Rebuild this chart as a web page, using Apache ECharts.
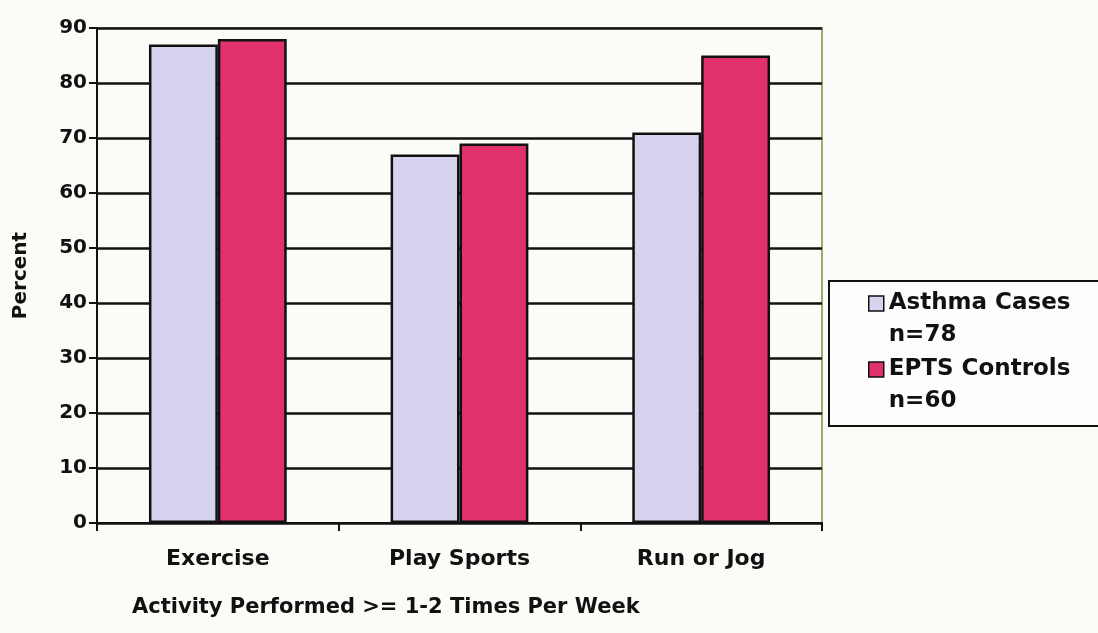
<!DOCTYPE html>
<html>
<head>
<meta charset="utf-8">
<script src="https://cdn.jsdelivr.net/npm/echarts@6/dist/echarts.min.js"></script>
<style>
  html, body { margin: 0; padding: 0; background: #fbfbf7; }
  #chart { width: 1098px; height: 633px; }
</style>
</head>
<body>
<div id="chart"></div>
<script>
const categories = ['Exercise', 'Play Sports', 'Run or Jog']
const asthmaCases = [87, 67, 71]
const eptsControls = [88, 69, 85]
const seriesNames = ['Asthma Cases\nn=78', 'EPTS Controls\nn=60']
const yTicks = [0, 10, 20, 30, 40, 50, 60, 70, 80, 90]

const chart = echarts.init(document.getElementById('chart'))
const font = 'DejaVu Sans, Verdana, sans-serif'

// first line sits level with the legend square, second line below it
const legendText = { fontFamily: font, fontSize: 23, fontWeight: 'bold', color: '#111' }

const option = {
  backgroundColor: '#fbfbf7',
  animation: false,
  title: {
    text: 'Activity Performed >= 1-2 Times Per Week',
    left: 132,
    top: 597,
    padding: 0,
    textStyle: { fontFamily: font, fontSize: 21, fontWeight: 'bold', color: '#111' }
  },
  // legend frame
  graphic: [{
    type: 'rect',
    right: -10,
    top: 280,
    z: 0,
    shape: { width: 278, height: 145 },
    style: { fill: '#fdfdfb', stroke: '#111', lineWidth: 2 }
  }],
  grid: {
    left: 97, right: 276, top: 28, bottom: 110,
    show: true,
    borderColor: '#8a8a40',
    borderWidth: 1.5,
    backgroundColor: 'transparent'
  },
  legend: {
    orient: 'vertical',
    left: 868,
    top: 292,
    padding: 0,
    itemWidth: 15,
    itemHeight: 15,
    itemGap: 11,
    icon: 'rect',
    data: seriesNames,
    formatter: name => {
      const [l1, l2] = name.split('\n')
      return '{a|' + l1 + '}\n{b|' + l2 + '}'
    },
    textStyle: {
      ...legendText,
      rich: {
        a: { ...legendText, lineHeight: 64, verticalAlign: 'bottom' },
        b: { ...legendText, lineHeight: 41, verticalAlign: 'middle' }
      }
    },
    itemStyle: { borderColor: '#111', borderWidth: 1.5 }
  },
  xAxis: {
    type: 'category',
    data: categories,
    axisLine: { lineStyle: { color: '#111', width: 2 } },
    axisTick: { show: true, length: 8, lineStyle: { color: '#111', width: 2 } },
    axisLabel: { fontFamily: font, fontSize: 22, fontWeight: 'bold', color: '#111', margin: 25 }
  },
  yAxis: {
    type: 'value',
    min: 0,
    max: yTicks[yTicks.length - 1],
    interval: 10,
    name: 'Percent',
    nameLocation: 'middle',
    nameGap: 66,
    nameRotate: 90,
    nameTextStyle: { fontFamily: font, fontSize: 20, fontWeight: 'bold', color: '#111' },
    axisLine: { show: true, lineStyle: { color: '#111', width: 2 } },
    axisTick: { show: true, length: 8, lineStyle: { color: '#111', width: 2 } },
    axisLabel: { fontFamily: font, fontSize: 20, fontWeight: 'bold', color: '#111', margin: 10 },
    splitLine: { lineStyle: { color: '#111', width: 2.5 } }
  },
  series: [
    {
      name: seriesNames[0],
      type: 'bar',
      data: asthmaCases,
      barGap: '0%',
      barCategoryGap: '43%',
      itemStyle: { color: '#d6d3ee', borderColor: '#111', borderWidth: 2.5 }
    },
    {
      name: seriesNames[1],
      type: 'bar',
      data: eptsControls,
      itemStyle: { color: '#e0306e', borderColor: '#111', borderWidth: 2.5 }
    }
  ]
}

chart.setOption(option)
</script>
</body>
</html>
